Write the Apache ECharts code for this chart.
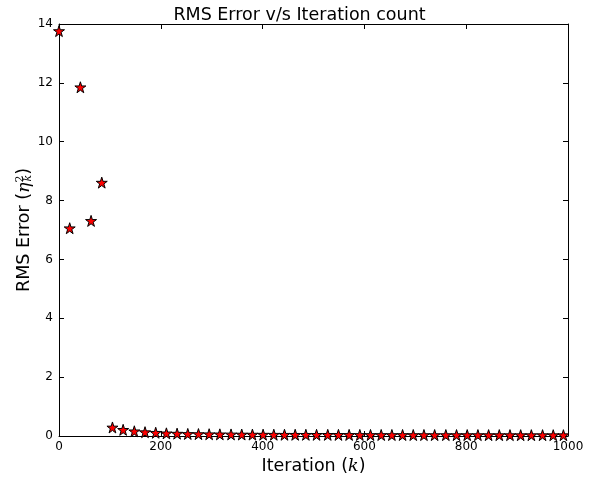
<!DOCTYPE html>
<html>
<head>
<meta charset="utf-8">
<script src="https://cdn.jsdelivr.net/npm/echarts@6/dist/echarts.min.js"></script>
<style>html,body{margin:0;padding:0;background:#fff}#c{width:599px;height:477px}</style>
</head>
<body>
<div id="c"></div>
<script>
var iterations = [0,21,42,63,84,105,126,148,169,190,211,232,253,274,295,316,338,359,380,401,422,443,464,485,506,528,549,570,591,612,633,654,675,696,717,738,760,781,802,823,844,865,886,907,928,950,971,991];
var rmsError = [13.76,7.06,11.85,7.31,8.61,0.29,0.21,0.16,0.13,0.11,0.09,0.08,0.07,0.065,0.06,0.056,0.053,0.05,0.048,0.046,0.044,0.043,0.042,0.041,0.04,0.039,0.038,0.037,0.036,0.035,0.035,0.034,0.034,0.033,0.033,0.032,0.032,0.031,0.031,0.031,0.03,0.03,0.03,0.029,0.029,0.029,0.028,0.028];
var xTicks = [0,200,400,600,800,1000];
var yTicks = [0,2,4,6,8,10,12,14];

var FONT = 'DejaVu Sans';
var STAR = 'path://M50,0 L61.2,34.5 L97.6,34.5 L68.2,55.9 L79.4,90.5 L50,69.1 L20.6,90.5 L31.8,55.9 L2.4,34.5 L38.8,34.5 Z';

var data = iterations.map(function(x, i){ return [x, rmsError[i]]; });

function baseAxis(extra){
  var o = {
    axisLine:{show:true, onZero:false, lineStyle:{color:'#000', width:1}},
    axisTick:{show:true, inside:true, length:5, lineStyle:{color:'#000', width:1}},
    splitLine:{show:false}
  };
  for (var k in extra) o[k] = extra[k];
  return o;
}

var chart = echarts.init(document.getElementById('c'), null, {renderer:'canvas'});
chart.setOption({
  animation:false,
  backgroundColor:'#fff',
  title:{
    text:'RMS Error v/s Iteration count',
    left:'center', top:1,
    textStyle:{fontFamily:FONT, fontSize:17.5, fontWeight:'normal', color:'#000'}
  },
  grid:{left:59, right:31, top:24, bottom:41, containLabel:false, outerBoundsMode:'none'},
  xAxis:[
    baseAxis({type:'value', min:0, max:1000, interval:200, position:'bottom',
      name:'Iteration ({it|k})', nameLocation:'middle', nameGap:21, nameMoveOverlap:false,
      nameTextStyle:{fontFamily:FONT, fontSize:17.5, color:'#000',
        rich:{it:{fontFamily:'DejaVu Serif', fontStyle:'italic', fontSize:17.5, color:'#000'}}},
      axisLabel:{fontFamily:FONT, fontSize:12, color:'#000', margin:5,
        formatter:function(v){ return xTicks.indexOf(v) >= 0 ? String(v) : ''; }}}),
    baseAxis({type:'value', min:0, max:1000, interval:200, position:'top',
      axisLabel:{show:false}})
  ],
  yAxis:[
    baseAxis({type:'value', min:0, max:14, interval:2, position:'left',
      name:'RMS Error ({it|η}{sup|2}{sub|k})', nameLocation:'middle', nameGap:25, nameMoveOverlap:false,
      nameTextStyle:{fontFamily:FONT, fontSize:17.5, color:'#000',
        rich:{
          it:{fontFamily:'DejaVu Serif', fontStyle:'italic', fontSize:17.5, color:'#000'},
          sup:{fontFamily:'DejaVu Serif', fontSize:11, color:'#000', verticalAlign:'top', padding:[0,0,8,0]},
          sub:{fontFamily:'DejaVu Serif', fontStyle:'italic', fontSize:11, color:'#000', verticalAlign:'bottom', padding:[6,0,0,-6]}
        }},
      axisLabel:{fontFamily:FONT, fontSize:12, color:'#000', margin:6,
        formatter:function(v){ return yTicks.indexOf(v) >= 0 ? String(v) : ''; }}}),
    baseAxis({type:'value', min:0, max:14, interval:2, position:'right',
      axisLabel:{show:false}})
  ],
  series:[{
    type:'scatter',
    xAxisIndex:0, yAxisIndex:0,
    data:data,
    symbol:STAR,
    symbolSize:11,
    clip:true,
    itemStyle:{color:'#ff0000', borderColor:'#000', borderWidth:1, opacity:1}
  }]
});
</script>
</body>
</html>
